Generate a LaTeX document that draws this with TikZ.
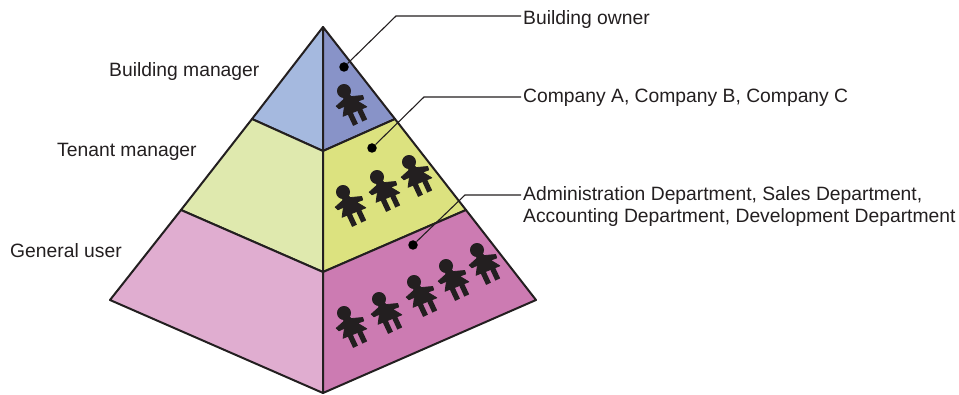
\documentclass[tikz,border=0pt]{standalone}
\usepackage{fontspec}
\setmainfont{Liberation Sans}
\usetikzlibrary{calc}
\definecolor{ownerleft}{HTML}{A5B9DF}
\definecolor{ownerright}{HTML}{8893C8}
\definecolor{tenantleft}{HTML}{DFE9AE}
\definecolor{tenantright}{HTML}{DCE27F}
\definecolor{userleft}{HTML}{E0ADD0}
\definecolor{userright}{HTML}{CC7BB2}
\definecolor{inkdark}{HTML}{231F20}
\tikzset{
	face/.style={draw=inkdark, line width=2pt, line join=round},
	lbl/.style={inner sep=0pt, font=\fontsize{19.3}{22.5}\selectfont, text=inkdark},
	sidelbl/.style={lbl, anchor=base west},
	dot/.style={circle, fill=black, inner sep=0pt, minimum size=9.5pt},
	leader/.style={draw=inkdark, line width=1.1pt},
	person/.pic={
		\fill[inkdark] (0, 0) circle (7);
		\filldraw[inkdark, line width=0.8pt, line join=round] (-3, 4) -- (3, 4) -- (4, 8) -- (15, 12) -- (14.5, 15.5) -- (8, 15) -- (14, 24) -- (-11.5, 22.5) -- (-6, 14) -- (-12, 14) -- (-13.5, 10.5) -- (-3.5, 7.5) -- cycle;
		\fill[inkdark] (-6.5, 22) rectangle (-1.2, 35.5);
		\fill[inkdark] (3.7, 22) rectangle (9, 35.5);
	},
}
\begin{document}
\begin{tikzpicture}[x=1pt, y=-1pt]
		\useasboundingbox (0, 0) rectangle (959, 395);

		%%%%% FACES %%%%%
		\draw[face, fill=ownerleft] (323, 27) -- (252, 119) -- (323, 151) -- cycle;
		\draw[face, fill=ownerright] (323, 27) -- (395, 119) -- (323, 151) -- cycle;
		\draw[face, fill=tenantleft] (252, 119) -- (181, 210) -- (323, 272) -- (323, 151) -- cycle;
		\draw[face, fill=tenantright] (395, 119) -- (466, 210) -- (323, 272) -- (323, 151) -- cycle;
		\draw[face, fill=userleft] (181, 210) -- (110, 300) -- (323, 393) -- (323, 272) -- cycle;
		\draw[face, fill=userright] (466, 210) -- (536, 300) -- (323, 393) -- (323, 272) -- cycle;

		%%%%% PEOPLE %%%%%
		\pic[rotate=25] at (344, 91) {person};

		\pic[rotate=25] at (343, 192) {person};
		\pic[rotate=25] at (377, 177) {person};
		\pic[rotate=25] at (409, 162) {person};

		\pic[rotate=25] at (344, 313) {person};
		\pic[rotate=25] at (379, 299) {person};
		\pic[rotate=25] at (414, 282) {person};
		\pic[rotate=25] at (446, 266) {person};
		\pic[rotate=25] at (477, 250) {person};

		%%%%% LABELS %%%%%
		\node[sidelbl] (manager) at (109, 76.5) {Building manager};
		\node[sidelbl] (tenant) at (57, 157) {Tenant manager};
		\node[sidelbl] (general) at (10, 257.5) {General user};

		\node[sidelbl] (owner) at (523, 25) {Building owner};
		\node[sidelbl] (company) at (523, 102.5) {Company A, Company B, Company C};
		\node[sidelbl, align=left] (dept) at (523, 223) {Administration Department, Sales Department,\\Accounting Department, Development Department};

		%%%%% LEADERS %%%%%
		\node[dot] (ownerdot) at (344, 67) {};
		\node[dot] (companydot) at (372, 148) {};
		\node[dot] (deptdot) at (413, 245) {};

		\coordinate (ownerbend) at (396, 16);
		\coordinate (companybend) at (424, 97);
		\coordinate (deptbend) at (465, 195);
		\coordinate (ownerend) at (521, 16);
		\coordinate (companyend) at (521, 97);
		\coordinate (deptend) at (521, 195);

		\draw[leader] (ownerdot) -- (ownerbend) -- (ownerend);
		\draw[leader] (companydot) -- (companybend) -- (companyend);
		\draw[leader] (deptdot) -- (deptbend) -- (deptend);
	\end{tikzpicture}
\end{document}
